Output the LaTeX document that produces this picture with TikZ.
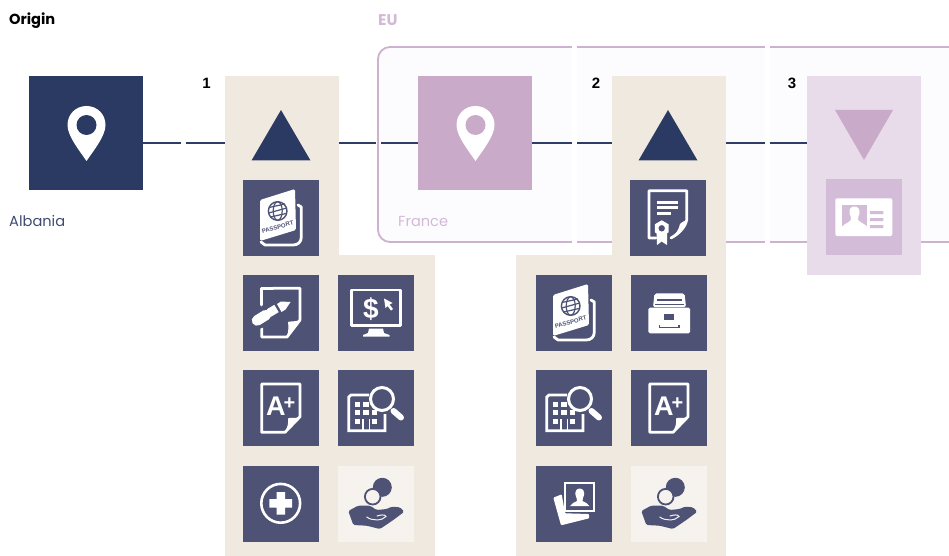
\documentclass[tikz,border=0pt]{standalone}
\usepackage{fontspec}
\setmainfont{Poppins}
\newfontfamily\labelsans{Liberation Sans}
\definecolor{navy}{HTML}{2A3A62}
\definecolor{linkc}{HTML}{2F3C66}
\definecolor{tile}{HTML}{4E5376}
\definecolor{beige}{HTML}{F0E9E0}
\definecolor{paleb}{HTML}{F6F3EE}
\definecolor{lilac}{HTML}{C9ABC9}
\definecolor{lilacb}{HTML}{CDB1CF}
\definecolor{lilact}{HTML}{D3B9D7}
\definecolor{lilacp}{HTML}{E8DCEA}
\definecolor{lilacs}{HTML}{D3BCD7}
\definecolor{boxf}{HTML}{FCFCFF}
\definecolor{ctext}{HTML}{414C73}
\tikzset{
  x=1pt,y=-1pt,
  rectbox/.style={inner sep=0pt,outer sep=0pt,anchor=north west},
  panel/.style={rectbox,fill=beige},
  link/.style={draw=linkc,line width=2.9pt},
  tag/.style={inner sep=0pt,anchor=west,font=\fontsize{14.6}{16}\selectfont},
  num/.style={inner sep=0pt,font=\labelsans\bfseries\fontsize{15}{16}\selectfont},
  tilebox/.style={rectbox,fill=tile,minimum width=76pt,minimum height=76pt},
  palebox/.style={rectbox,fill=paleb,minimum width=76pt,minimum height=76pt},
  wl/.style={draw=white,line width=2.8pt,line join=round,line cap=round},
  pics/pin/.style={code={
    \fill[white] (57.5,85) .. controls (50,74) and (38.5,60) .. (38.5,49)
      .. controls (38.5,38) and (47,30) .. (57.5,30)
      .. controls (68,30) and (76.5,38) .. (76.5,49)
      .. controls (76.5,60) and (65,74) .. (57.5,85) -- cycle;
    \fill[#1] (57.5,49) circle[radius=10];
  }},
  pics/passport/.style={code={
    \draw[wl] (55,25) -- (58.3,27) -- (58.3,57) .. controls (58.3,62) and (55,65) .. (50,65) -- (22,65) -- (18,62);
    \fill[white,rounded corners=1.5pt] (17,20) -- (52,9) -- (53,50) -- (17,61) -- cycle;
    \draw[draw=tile,line width=1.4pt] (34.7,31) circle[radius=9.3];
    \draw[draw=tile,line width=1.2pt] (34.7,31) ellipse[x radius=4.5,y radius=9.3];
    \draw[draw=tile,line width=1.2pt] (25.7,33) -- (43.7,28) (26,27.5) -- (42,24) (27.5,37) -- (43,33.5);
    \node[inner sep=0pt,text=tile,rotate=15,font=\labelsans\bfseries\fontsize{6}{6}\selectfont] at (34.7,47) {PASSPORT};
  }},
  pics/pendoc/.style={code={
    \draw[wl] (30,13.3) -- (57,13.3) -- (57,45) -- (44,62) -- (18.7,62) -- (18.7,53);
    \draw[wl] (18.7,30) -- (18.7,13.3) -- (30,13.3);
    \fill[white] (57,45) .. controls (52,47) and (47,46) .. (45,47) .. controls (46,52) and (45,58) .. (44,62) -- cycle;
    \draw[draw=tile,line width=16pt,line cap=round] (40,31) -- (15,46);
    \fill[white] (47.5,27) -- (38,26.5) -- (34,29) -- (38.5,37) -- (42.5,34.5) -- cycle;
    \draw[draw=white,line width=8.5pt] (33.5,33.5) -- (26,38);
    \draw[draw=white,line width=10.5pt,line cap=round] (23,40) -- (14,45.5);
  }},
  pics/monitor/.style={code={
    \draw[wl] (13.7,15) rectangle (62.7,50.7);
    \fill[white] (31,53.5) -- (45,53.5) -- (46,58) -- (51.5,60) -- (51.5,61.5) -- (25,61.5) -- (25,60) -- (30,58) -- cycle;
    \node[inner sep=0pt,text=white,font=\labelsans\bfseries\fontsize{28}{28}\selectfont] at (33,34) {\$};
    \fill[white] (46,23.5) -- (54.5,28) -- (51.5,29.5) -- (55,34) -- (53,35.5) -- (49.5,31) -- (47.5,33) -- cycle;
  }},
  pics/aplus/.style={code={
    \draw[wl] (42,62.3) -- (18.7,62.3) -- (18.7,14) -- (57,14) -- (57,46.7) -- cycle;
    \fill[white] (57,46.7) .. controls (52,49) and (47,47) .. (45,48.5) .. controls (46,53) and (44,58) .. (42,62.3) -- cycle;
    \node[inner sep=0pt,text=white,font=\labelsans\bfseries\fontsize{27}{27}\selectfont] at (37.7,35.8) {A\kern-2pt\raisebox{6pt}{\fontsize{20}{20}\selectfont +}};
  }},
  pics/bsearch/.style={code={
    \draw[draw=white,line width=2.8pt] (31,25) -- (13,25) -- (10.8,27) -- (10.8,60.7) -- (47,60.7) -- (47,44);
    \foreach \wx/\wy in {19.3/34.3,28/34.3,19.3/42.7,28/42.7,36.7/42.7,19.3/51.7,36.7/51.7}
      \fill[white] (\wx-2.6,\wy-2.6) rectangle (\wx+2.6,\wy+2.6);
    \draw[draw=white,line width=1.6pt] (25,60.7) -- (25,49) (31.5,60.7) -- (31.5,49);
    \filldraw[draw=white,fill=tile,line width=3pt] (44,29) circle[radius=11.5];
    \draw[draw=white,line width=6pt,line cap=round] (55.5,41) -- (63,47.5);
  }},
  pics/crosscirc/.style={code={
    \draw[draw=white,line width=2.6pt] (37.7,37.3) circle[radius=19.4];
    \fill[white] (26.4,33.2) -- (33.5,33.2) -- (33.5,26) -- (42,26) -- (42,33.2) -- (49,33.2) -- (49,41.5) -- (42,41.5) -- (42,48.5) -- (33.5,48.5) -- (33.5,41.5) -- (26.4,41.5) -- cycle;
  }},
  pics/handcoin/.style={code={
    \fill[tile] (44.3,21.3) circle[radius=9.5];
    \filldraw[draw=tile,fill=paleb,line width=1.8pt] (34.7,30.7) circle[radius=7.8];
    \fill[tile,rounded corners=1.5pt] (10.3,45) -- (20,39.7) -- (32,39.7) -- (38.7,44) -- (48.7,43) -- (53.7,40.7) -- (62,41.3) -- (66.3,45.7) -- (55.3,54) -- (42,63) -- (28.7,59.7) -- (15.3,59) -- cycle;
    \draw[draw=paleb,line width=1pt,line cap=round] (28.7,51) .. controls (34,55) and (44,55) .. (48,50.5) .. controls (47,48) and (42,49) .. (39,50);
  }},
  pics/certif/.style={code={
    \draw[wl] (26,58) -- (19,58) -- (19,10.7) -- (56.7,10.7) -- (56.7,40) .. controls (55,48) and (48,54) .. (41,58);
    \fill[white] (56.7,40) .. controls (52,42) and (51,43) .. (50,44) .. controls (49,50) and (45,55) .. (40,58.5) .. controls (48,58) and (55,48) .. (56.7,40) -- cycle;
    \draw[draw=white,line width=2.8pt] (27.3,22.3) -- (48.3,22.3) (27.3,27.7) -- (48.3,27.7) (27.3,33.3) -- (40.5,33.3);
    \fill[white] (26.5,50) -- (37,50) -- (37,65) -- (31.7,61.5) -- (27,65) -- cycle;
    \fill[white] (31.7,40.3) -- (38.6,44.3) -- (38.6,52.3) -- (31.7,56.3) -- (24.8,52.3) -- (24.8,44.3) -- cycle;
    \fill[tile] (31.7,48.3) circle[radius=3.2];
  }},
  pics/cabinet/.style={code={
    \fill[white,rounded corners=2pt] (23.5,18.3) -- (53.5,18.3) -- (55,32) -- (22,32) -- cycle;
    \draw[draw=tile,line width=1.3pt] (25.5,25) -- (50.5,25) (24,29.5) -- (53,29.5);
    \fill[white,rounded corners=1.5pt] (17.3,32.7) rectangle (59,58.3);
    \fill[tile] (33.3,39.3) rectangle (43,45);
    \draw[draw=tile,line width=1.5pt] (28.3,50) -- (28.3,52.7) -- (48,52.7) -- (48,50);
  }},
  pics/photos/.style={code={
    \fill[white,rounded corners=1pt] (17.3,31.7) -- (25.7,28.3) -- (29,47.3) -- (53,48) -- (53.3,52.3) -- (25,59.3) -- cycle;
    \draw[draw=white,line width=2.2pt] (29.3,16.7) rectangle (57.7,44.7);
    \fill[white] (43.7,22.5) .. controls (47.5,22.5) and (48.5,26) .. (48,29) .. controls (47.5,32) and (46,33) .. (46.5,35) .. controls (49,36.5) and (52,37) .. (53.3,40) -- (34,40) .. controls (35.5,37) and (38.5,36.5) .. (41,35) .. controls (41.5,33) and (40,32) .. (39.5,29) .. controls (39,26) and (40,22.5) .. (43.7,22.5) -- cycle;
  }},
  pics/idcard/.style={code={
    \fill[white,rounded corners=2pt] (9.3,19.3) rectangle (66.3,57);
    \fill[lilacs] (15.7,26) rectangle (41.3,50.3);
    \fill[white] (28.3,27.5) .. controls (32,27.5) and (34,30.5) .. (33.5,34) .. controls (33,37) and (31.5,38.5) .. (32,41) .. controls (35,44) and (39,45) .. (41.3,48) -- (41.3,50.3) -- (15.7,50.3) -- (15.7,48) .. controls (18,45) and (22,44) .. (25,41) .. controls (25.5,38.5) and (24,37) .. (23.5,34) .. controls (23,30.5) and (24.5,27.5) .. (28.3,27.5) -- cycle;
    \fill[lilacs] (44,32) rectangle (57.3,35) (44,39) rectangle (57.3,42) (44,46) rectangle (57.3,49);
  }},
}
\begin{document}
\begin{tikzpicture}
\useasboundingbox (0,0) rectangle (949,556);
\clip (0,0) rectangle (949,556);
% EU region
\node[rectbox,minimum width=600pt,minimum height=195pt,fill=boxf,draw=lilacb,line width=1.8pt,rounded corners=12pt] (eu) at (378,47) {};
% white strips
\node[rectbox,fill=white,minimum width=5pt,minimum height=212pt] (stripa) at (572,43) {};
\node[rectbox,fill=white,minimum width=5pt,minimum height=212pt] (stripb) at (764.5,43) {};
% panels
\node[panel,minimum width=114pt,minimum height=179pt] (pone) at (225,76) {};
\node[panel,minimum width=210pt,minimum height=301pt] (poneb) at (225,255) {};
\node[panel,minimum width=114pt,minimum height=179pt] (ptwo) at (612,76) {};
\node[panel,minimum width=210pt,minimum height=301pt] (ptwob) at (516,255) {};
\node[rectbox,fill=lilacp,minimum width=114pt,minimum height=199pt] (pthree) at (807,76) {};
% location squares
\node[rectbox,fill=navy,minimum width=114pt,minimum height=114pt] (origin) at (29,76) {};
\node[rectbox,fill=lilac,minimum width=114pt,minimum height=114pt] (france) at (418,76) {};
% connector gaps
\coordinate (ga) at (181,143);
\coordinate (gb) at (186,143);
\coordinate (gc) at (375.5,143);
\coordinate (gd) at (381,143);
\coordinate (ge) at (572,143);
\coordinate (gf) at (577,143);
\coordinate (gg) at (764.5,143);
\coordinate (gh) at (769.5,143);
\draw[link] (origin.east |- ga) -- (ga);
\draw[link] (gb) -- (gb -| pone.west);
\draw[link] (gc -| pone.east) -- (gc);
\draw[link] (gd) -- (gd -| france.west);
\draw[link] (ge -| france.east) -- (ge);
\draw[link] (gf) -- (gf -| ptwo.west);
\draw[link] (gg -| ptwo.east) -- (gg);
\draw[link] (gh) -- (gh -| pthree.west);
% pins
\pic at (29,76) {pin=navy};
\pic at (418,76) {pin=lilac};
% triangles
\fill[navy] (281,110) -- (310.5,160.5) -- (251.5,160.5) -- cycle;
\fill[navy] (668,110) -- (697.5,160.5) -- (638.5,160.5) -- cycle;
\fill[lilac] (835,110) -- (893,110) -- (864,160) -- cycle;
% first column
\node[tilebox] (a1) at (243,180) {}; \pic at (243,180) {passport};
\node[tilebox] (a2) at (243,275) {}; \pic at (243,275) {pendoc};
\node[tilebox] (a3) at (338,275) {}; \pic at (338,275) {monitor};
\node[tilebox] (a4) at (243,370) {}; \pic at (243,370) {aplus};
\node[tilebox] (a5) at (338,370) {}; \pic at (338,370) {bsearch};
\node[tilebox] (a6) at (243,466) {}; \pic at (243,466) {crosscirc};
\node[palebox] (a7) at (338,466) {}; \pic at (338,466) {handcoin};
% second column
\node[tilebox] (b1) at (630,180) {}; \pic at (630,180) {certif};
\node[tilebox] (b2) at (536,275) {}; \pic at (536,275) {passport};
\node[tilebox] (b3) at (631,275) {}; \pic at (631,275) {cabinet};
\node[tilebox] (b4) at (536,370) {}; \pic at (536,370) {bsearch};
\node[tilebox] (b5) at (631,370) {}; \pic at (631,370) {aplus};
\node[tilebox] (b6) at (536,466) {}; \pic at (536,466) {photos};
\node[palebox] (b7) at (631,466) {}; \pic at (631,466) {handcoin};
% third column
\node[rectbox,fill=lilacs,minimum width=76pt,minimum height=76pt] (c1) at (826,179) {};
\pic at (826,179) {idcard};
% labels
\node[tag,font=\bfseries\fontsize{14.6}{16}\selectfont,text=black] (torigin) at (9,20.5) {Origin};
\node[tag,font=\bfseries\fontsize{15.5}{16}\selectfont,text=lilact] (teu) at (378,20) {EU};
\node[tag,text=ctext] (talb) at (9,221.5) {Albania};
\node[tag,text=lilact] (tfra) at (398,221.5) {France};
\node[num] (n1) at (206.5,83) {1};
\node[num] (n2) at (596,83) {2};
\node[num] (n3) at (792,83) {3};
\end{tikzpicture}
\end{document}
